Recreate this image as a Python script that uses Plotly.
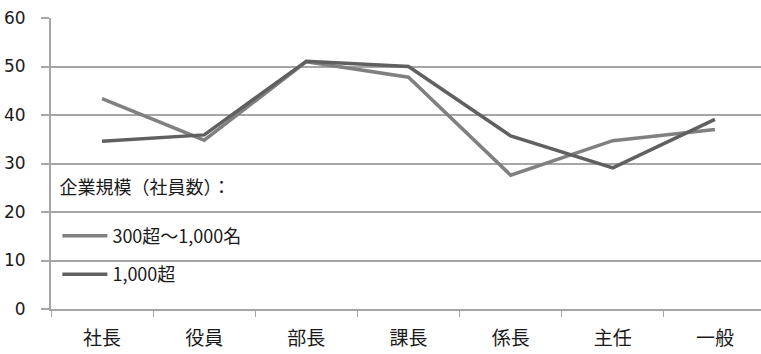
import plotly.graph_objects as go

categories = ["社長", "役員", "部長", "課長", "係長", "主任", "一般"]
series_names = ["300超～1,000名", "1,000超"]
values_300_1000 = [43.4, 34.8, 51.0, 47.8, 27.6, 34.7, 37.0]
values_over_1000 = [34.6, 35.9, 51.1, 50.0, 35.7, 29.1, 39.1]
y_ticks = [0, 10, 20, 30, 40, 50, 60]

FONT = "Noto Sans CJK JP"
GRID = "#a6a6a6"

fig = go.Figure()
fig.add_trace(go.Scatter(x=categories, y=values_300_1000, name=series_names[0],
                         mode="lines", line=dict(color="#808080", width=3.5),
                         legendgroup="a"))
fig.add_trace(go.Scatter(x=categories, y=values_over_1000, name=series_names[1],
                         mode="lines", line=dict(color="#606060", width=3.5),
                         legendgroup="b"))

fig.update_layout(
    width=761, height=354,
    margin=dict(l=51, r=0, t=18, b=45),
    paper_bgcolor="white", plot_bgcolor="white",
    font=dict(family=FONT, size=16, color="#1a1a1a"),
    showlegend=True,
    legend=dict(
        title=dict(text="企業規模（社員数）：<br> ", font=dict(size=18, family=FONT)),
        x=0.009, y=0.475, xanchor="left", yanchor="top",
        bgcolor="rgba(0,0,0,0)", borderwidth=0,
        font=dict(size=18, family=FONT),
        traceorder="grouped", tracegroupgap=12,
        itemwidth=45,
    ),
)
fig.update_xaxes(
    type="category", range=[-0.5, 6.451], automargin=False,
    showgrid=False, showline=True, linecolor=GRID, linewidth=2,
    ticks="outside", tickson="boundaries", ticklen=6, tickcolor=GRID, tickwidth=1,
    tickfont=dict(size=19, family=FONT), ticklabelstandoff=11,
)
fig.update_yaxes(
    range=[0, 60], tickvals=y_ticks, automargin=False,
    showgrid=True, gridcolor=GRID, gridwidth=2,
    showline=True, linecolor=GRID, linewidth=2,
    ticks="outside", ticklen=8, tickcolor=GRID, tickwidth=2,
    tickfont=dict(size=17, family="DejaVu Sans"), ticklabelstandoff=12,
    zeroline=False,
)

fig.write_html("out.html")
